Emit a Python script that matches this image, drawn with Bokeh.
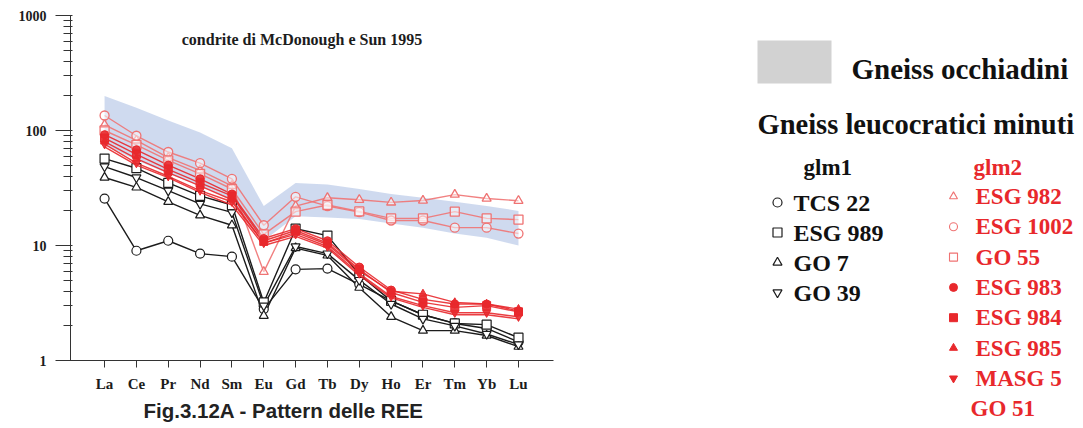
from bokeh.plotting import figure
from bokeh.models import Range1d, FixedTicker, Title, Label, PrintfTickFormatter
from bokeh.layouts import row
from bokeh.embed import file_html
from bokeh.resources import INLINE
from bokeh.core.properties import value

# ---------------- data ----------------
elements = ["La", "Ce", "Pr", "Nd", "Sm", "Eu", "Gd", "Tb", "Dy", "Ho", "Er", "Tm", "Yb", "Lu"]

band_upper = [200, 158, 122, 96, 70, 22, 35, 34, 31, 28, 26, 24, 22, 20]
band_lower = [75, 55, 42, 33, 25, 11, 18, 17.5, 17, 15.5, 14.3, 12.7, 11.7, 10]

# glm1 (black)
tcs22 = [25.6, 9.0, 11.0, 8.5, 8.0, 2.8, 6.2, 6.3, 4.6, 3.3, 2.5, 2.1, 1.9, 1.45]
esg989 = [57, 47, 35, 27, 22.5, 3.2, 14, 12.2, 5.6, 3.3, 2.5, 2.1, 2.05, 1.58]
go7 = [39, 32, 24, 18.3, 15, 2.45, 9.5, 8.2, 4.3, 2.4, 1.82, 1.82, 1.65, 1.32]
go39 = [48.6, 39, 30, 23, 19.4, 3.0, 9.8, 8.5, 5.0, 3.1, 2.3, 2.0, 1.7, 1.38]

# glm2 (red)
esg982 = [112, 82, 58, 45, 33, 5.9, 22, 26, 25, 23.7, 24.6, 27.7, 25.6, 24.5]
esg1002 = [135, 90, 65, 52, 38, 15, 26.5, 22, 19.5, 16.5, 16.5, 14.3, 14.3, 12.7]
go55 = [100, 75, 55, 42, 31, 12.5, 19.7, 22.5, 19.8, 17.2, 17.2, 19.7, 17.2, 16.8]
esg983 = [92, 68, 50, 38, 28, 11.5, 14, 11, 6.5, 4.1, 3.4, 3.1, 3.1, 2.7]
esg984 = [86, 62, 46, 35, 27, 11, 13.5, 10.5, 6.2, 3.9, 3.2, 2.9, 3.0, 2.65]
esg985 = [80, 57, 43, 33, 25, 10.5, 13, 10.2, 6.0, 4.0, 3.8, 3.2, 3.1, 2.8]
masg5 = [76, 52, 40, 30, 24, 10.5, 12.5, 9.8, 5.7, 3.6, 3.0, 2.6, 2.6, 2.4]
go51 = [72, 50, 39, 29, 22.5, 10, 12, 9.5, 5.5, 3.5, 2.9, 2.5, 2.5, 2.3]

glm1_names = ["TCS 22", "ESG 989", "GO 7", "GO 39"]
glm1_values = [tcs22, esg989, go7, go39]
glm1_markers = ["circle", "square", "triangle", "inverted_triangle"]

glm2_names = ["ESG 982", "ESG 1002", "GO 55", "ESG 983", "ESG 984", "ESG 985", "MASG 5", "GO 51"]
glm2_values = [esg982, esg1002, go55, esg983, esg984, esg985, masg5, go51]
glm2_markers = ["triangle", "circle", "square", "circle", "square", "triangle", "inverted_triangle", None]
glm2_filled = [False, False, False, True, True, True, True, True]

y_ticks = [1, 10, 100, 1000]

# ---------------- style ----------------
SERIF = "Liberation Serif"
SANS = "Liberation Sans"
BLACK = "#1c1c1c"
RED = "#e8282c"
PINK = "#ef7373"
BAND = "#cad6ed"

xs = list(range(len(elements)))

p = figure(frame_width=483, frame_height=345,
           min_border_left=70, min_border_right=15, min_border_top=15, min_border_bottom=60,
           x_range=Range1d(-1.07, 14.1), y_range=Range1d(1, 1000), y_axis_type="log",
           output_backend="svg", toolbar_location=None)
p.outline_line_color = None
p.grid.visible = False
p.background_fill_color = "white"

# axes
p.xaxis.ticker = FixedTicker(ticks=xs)
p.xaxis.major_label_overrides = {i: e for i, e in enumerate(elements)}
p.xaxis.major_tick_out = 7
p.xaxis.major_tick_in = 0
p.xaxis.major_label_standoff = 8
p.xaxis.major_label_text_font = SERIF
p.xaxis.major_label_text_font_style = "bold"
p.xaxis.major_label_text_font_size = "15px"
p.xaxis.major_label_text_color = BLACK

minor = [d * k for d in y_ticks[:-1] for k in range(2, 10)]
p.yaxis.ticker = FixedTicker(ticks=y_ticks, minor_ticks=minor)
p.yaxis.formatter = PrintfTickFormatter(format="%d")
p.yaxis.major_tick_out = 15
p.yaxis.major_tick_in = 2
p.yaxis.minor_tick_out = 7
p.yaxis.minor_tick_in = 2
p.yaxis.major_label_standoff = 9
p.yaxis.major_label_text_font = SERIF
p.yaxis.major_label_text_font_style = "bold"
p.yaxis.major_label_text_font_size = "14px"
p.yaxis.major_label_text_color = BLACK
for ax in (p.xaxis, p.yaxis):
    ax.axis_line_color = "#333333"
    ax.major_tick_line_color = "#333333"
    ax.minor_tick_line_color = "#333333"
p.xaxis.minor_tick_line_color = None

# band
p.varea(x=xs, y1=band_lower, y2=band_upper, fill_color=BAND, fill_alpha=0.9)

# glm1 black
for vals in glm1_values:
    p.line(xs, vals, line_color=BLACK, line_width=1.4)
for vals, mk in zip(glm1_values, glm1_markers):
    p.scatter(xs, vals, marker=mk, size=9, fill_color="white", line_color=BLACK, line_width=1.2)

# glm2 red
for vals, filled in zip(glm2_values, glm2_filled):
    col = RED if filled else PINK
    p.line(xs, vals, line_color=col, line_width=1.4, line_alpha=0.9)
for vals, mk, filled in zip(glm2_values, glm2_markers, glm2_filled):
    if mk is None:
        continue
    if filled:
        p.scatter(xs, vals, marker=mk, size=8, fill_color=RED, line_color=RED, fill_alpha=0.9)
    else:
        p.scatter(xs, vals, marker=mk, size=9, fill_color="white", fill_alpha=0.5,
                  line_color=PINK, line_width=1.3)

p.add_layout(Label(x=6.2, y=620, text="condrite di McDonough e Sun 1995",
                   text_font=SERIF, text_font_style="bold", text_font_size="16px",
                   text_align="center", text_baseline="middle", text_color=BLACK))

cap = Title(text="Fig.3.12A - Pattern delle REE", align="left", offset=73,
            text_font=SANS, text_font_style="bold", text_font_size="20.5px",
            text_color="#222222", standoff=4)
p.add_layout(cap, "below")

# ---------------- legend panel ----------------
LX0, LX1 = 568, 1075
q = figure(frame_width=LX1 - LX0, frame_height=405,
           min_border_left=0, min_border_right=0, min_border_top=15, min_border_bottom=0,
           x_range=Range1d(LX0, LX1), y_range=Range1d(420, 15),
           x_axis_type=None, y_axis_type=None,
           output_backend="svg", toolbar_location=None)
q.outline_line_color = None
q.grid.visible = False

q.quad(left=[757], right=[831], top=[40], bottom=[83], fill_color="#d2d2d2", line_color=None)
q.text(x=[851], y=[68], text=["Gneiss occhiadini"], text_font=value(SERIF),
       text_font_style="bold", text_font_size="29px", text_baseline="middle", text_color="#111111")
q.text(x=[757], y=[124], text=["Gneiss leucocratici minuti"], text_font=value(SERIF),
       text_font_style="bold", text_font_size="28.5px", text_baseline="middle", text_color="#111111")
q.text(x=[803], y=[167], text=["glm1"], text_font=value(SERIF),
       text_font_style="bold", text_font_size="23px", text_baseline="middle", text_color="#111111")
q.text(x=[973], y=[167], text=["glm2"], text_font=value(SERIF),
       text_font_style="bold", text_font_size="23px", text_baseline="middle", text_color=RED)

row1_y = [202 + 30 * i for i in range(len(glm1_names))]
q.text(x=[793] * len(glm1_names), y=row1_y, text=glm1_names, text_font=value(SERIF),
       text_font_style="bold", text_font_size="24px", text_baseline="middle", text_color="#111111")
for yy, mk in zip(row1_y, glm1_markers):
    q.scatter([777], [yy], marker=mk, size=9, fill_color="white", line_color=BLACK, line_width=1.2)

row2_y = [196 + 30.3 * i for i in range(len(glm2_names))]
q.text(x=[975] * 7 + [970], y=row2_y, text=glm2_names, text_font=value(SERIF),
       text_font_style="bold", text_font_size="23px", text_baseline="middle", text_color=RED)
for yy, mk, filled in zip(row2_y, glm2_markers, glm2_filled):
    if mk is None:
        continue
    if filled:
        q.scatter([953], [yy], marker=mk, size=8, fill_color=RED, line_color=RED)
    else:
        q.scatter([953], [yy], marker=mk, size=8, fill_color="white", line_color=PINK, line_width=1.1)

layout = row(p, q)
open("out.html", "w").write(file_html(layout, INLINE))
